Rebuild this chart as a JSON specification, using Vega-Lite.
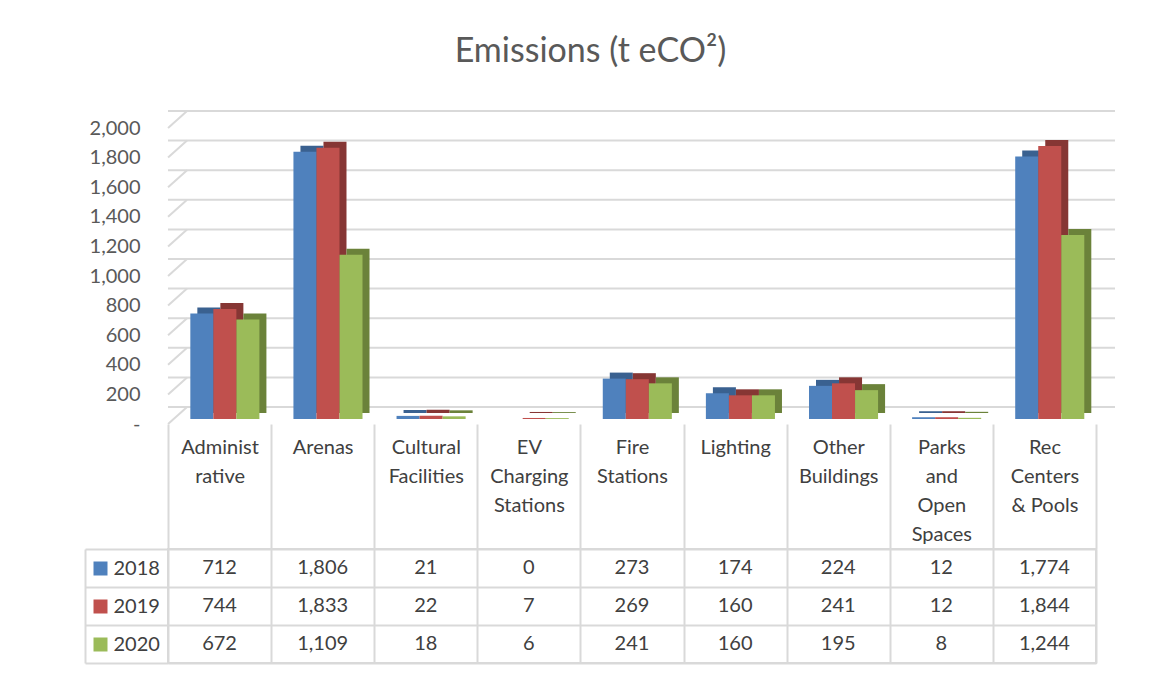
{
  "$schema": "https://vega.github.io/schema/vega-lite/v6.json",
  "autosize": {"type": "pad"},
  "padding": {"left": 83, "top": 35, "right": 10, "bottom": 5},
  "background": "white",
  "bounds": "flush",
  "spacing": 130,
  "title": {"text": "Emissions (t eCO²)", "font": "Lato", "fontSize": 34, "fontWeight": "normal", "color": "#595959", "anchor": "middle", "dx": -9, "offset": 41},
  "config": {
    "font": "Lato",
    "view": {"stroke": null},
    "axis": {"labelFont": "Lato", "labelFontSize": 20, "labelColor": "#595959", "title": null}
  },
  "datasets": {
    "emissions": [
      {"category": "Administrative", "year": "2018", "value": 712},
      {"category": "Administrative", "year": "2019", "value": 744},
      {"category": "Administrative", "year": "2020", "value": 672},
      {"category": "Arenas", "year": "2018", "value": 1806},
      {"category": "Arenas", "year": "2019", "value": 1833},
      {"category": "Arenas", "year": "2020", "value": 1109},
      {"category": "Cultural Facilities", "year": "2018", "value": 21},
      {"category": "Cultural Facilities", "year": "2019", "value": 22},
      {"category": "Cultural Facilities", "year": "2020", "value": 18},
      {"category": "EV Charging Stations", "year": "2018", "value": 0},
      {"category": "EV Charging Stations", "year": "2019", "value": 7},
      {"category": "EV Charging Stations", "year": "2020", "value": 6},
      {"category": "Fire Stations", "year": "2018", "value": 273},
      {"category": "Fire Stations", "year": "2019", "value": 269},
      {"category": "Fire Stations", "year": "2020", "value": 241},
      {"category": "Lighting", "year": "2018", "value": 174},
      {"category": "Lighting", "year": "2019", "value": 160},
      {"category": "Lighting", "year": "2020", "value": 160},
      {"category": "Other Buildings", "year": "2018", "value": 224},
      {"category": "Other Buildings", "year": "2019", "value": 241},
      {"category": "Other Buildings", "year": "2020", "value": 195},
      {"category": "Parks and Open Spaces", "year": "2018", "value": 12},
      {"category": "Parks and Open Spaces", "year": "2019", "value": 12},
      {"category": "Parks and Open Spaces", "year": "2020", "value": 8},
      {"category": "Rec Centers & Pools", "year": "2018", "value": 1774},
      {"category": "Rec Centers & Pools", "year": "2019", "value": 1844},
      {"category": "Rec Centers & Pools", "year": "2020", "value": 1244}
    ],
    "gridticks": [{"tick": 0}, {"tick": 200}, {"tick": 400}, {"tick": 600}, {"tick": 800}, {"tick": 1000}, {"tick": 1200}, {"tick": 1400}, {"tick": 1600}, {"tick": 1800}, {"tick": 2000}]
  },
  "vconcat": [
    {
      "width": 928,
      "height": 296,
      "encoding": {
        "y": {
          "field": "value", "type": "quantitative",
          "scale": {"domain": [0, 2000], "nice": false},
          "axis": {
            "values": [0, 200, 400, 600, 800, 1000, 1200, 1400, 1600, 1800, 2000],
            "domain": false, "ticks": false, "grid": false, "labelOverlap": false,
            "labelPadding": 28, "labelOffset": 5,
            "labelExpr": "datum.value == 0 ? '-' : format(datum.value, ',')"
          }
        }
      },
      "layer": [
        {
          "data": {"name": "gridticks"},
          "mark": {"type": "rule", "color": "#d9d9d9", "strokeWidth": 2, "xOffset": 19, "x2Offset": 19, "yOffset": -12},
          "encoding": {"y": {"field": "tick", "type": "quantitative"}}
        },
        {
          "data": {"name": "gridticks"},
          "mark": {"type": "rule", "color": "#d9d9d9", "strokeWidth": 2, "xOffset": -51.5, "x2Offset": -32.5, "yOffset": 5, "y2Offset": -12},
          "encoding": {
            "y": {"field": "tick", "type": "quantitative"},
            "y2": {"field": "tick"},
            "x": {"datum": "Administrative", "type": "nominal"},
            "x2": {"datum": "Administrative"}
          }
        },
        {
          "data": {"name": "emissions"},
          "encoding": {
            "x": {
              "field": "category", "type": "nominal", "sort": null,
              "scale": {"paddingInner": 0, "paddingOuter": 0},
              "axis": {
                "orient": "bottom", "offset": 5, "domain": false,
                "ticks": true, "tickBand": "extent", "tickSize": 125, "tickColor": "#d9d9d9", "tickWidth": 2,
                "labelAngle": 0, "labelAlign": "center", "labelBaseline": "top", "labelPadding": -112, "labelLineHeight": 29,
                "labelColor": "#404040", "labelOverlap": false,
                "labelExpr": "datum.label == 'Administrative' ? ['Administ', 'rative'] : datum.label == 'Rec Centers & Pools' ? ['Rec', 'Centers', '& Pools'] : split(datum.label, ' ')"
              }
            }
          },
          "layer": [
            {
              "mark": {"type": "bar", "yOffset": -6, "y2Offset": -6},
              "encoding": {
                "xOffset": {
                  "field": "year", "type": "nominal",
                  "scale": {"paddingInner": 0, "paddingOuter": 0.739, "align": 0.862}
                },
                "color": {"field": "year", "type": "nominal", "scale": {"domain": ["2018", "2019", "2020"], "range": ["#3a6190", "#863634", "#6b823a"]}, "legend": null}
              }
            },
            {
              "mark": {"type": "bar"},
              "encoding": {
                "xOffset": {
                  "field": "year", "type": "nominal",
                  "scale": {"paddingInner": 0, "paddingOuter": 0.739, "align": 0.656}
                },
                "color": {"field": "year", "type": "nominal", "scale": {"domain": ["2018", "2019", "2020"], "range": ["#4f81bd", "#c0504d", "#9bbb59"]}, "legend": null}
              }
            }
          ],
          "resolve": {"scale": {"color": "independent", "xOffset": "independent"}}
        }
      ]
    },
    {
      "width": 928,
      "height": 114,
      "view": {"stroke": "#d9d9d9", "strokeWidth": 2},
      "data": {"name": "emissions"},
      "encoding": {
        "x": {
          "field": "category", "type": "nominal", "sort": null,
          "scale": {"paddingInner": 0, "paddingOuter": 0},
          "axis": {"orient": "bottom", "labels": false, "ticks": false, "domain": false, "grid": true, "tickBand": "extent", "gridColor": "#d9d9d9", "gridWidth": 2}
        }
      },
      "layer": [
        {
          "mark": {"type": "text", "font": "Lato", "fontSize": 20, "color": "#404040"},
          "encoding": {
            "text": {"field": "value", "type": "quantitative", "format": ","},
            "y": {
              "field": "year", "type": "nominal",
              "scale": {"paddingInner": 0, "paddingOuter": 0},
              "axis": {
                "orient": "left", "offset": 83,
                "domain": true, "domainColor": "#d9d9d9", "domainWidth": 2,
                "ticks": true, "tickBand": "extent", "tickSize": -83, "tickColor": "#d9d9d9", "tickWidth": 2,
                "grid": true, "gridColor": "#d9d9d9", "gridWidth": 2,
                "labelAlign": "left", "labelPadding": 55, "labelColor": "#404040"
              }
            }
          }
        },
        {
          "mark": {"type": "text", "opacity": 0},
          "encoding": {
            "text": {"field": "value", "type": "quantitative"},
            "y": {
              "field": "year", "type": "nominal",
              "axis": {
                "orient": "left", "offset": 61,
                "domain": false, "grid": false, "labels": false,
                "ticks": true, "tickSize": 14, "tickWidth": 14,
                "tickColor": {"condition": [{"test": "datum.value == '2018'", "value": "#4f81bd"}, {"test": "datum.value == '2019'", "value": "#c0504d"}], "value": "#9bbb59"}
              }
            }
          }
        }
      ],
      "resolve": {"axis": {"y": "independent"}}
    }
  ]
}
